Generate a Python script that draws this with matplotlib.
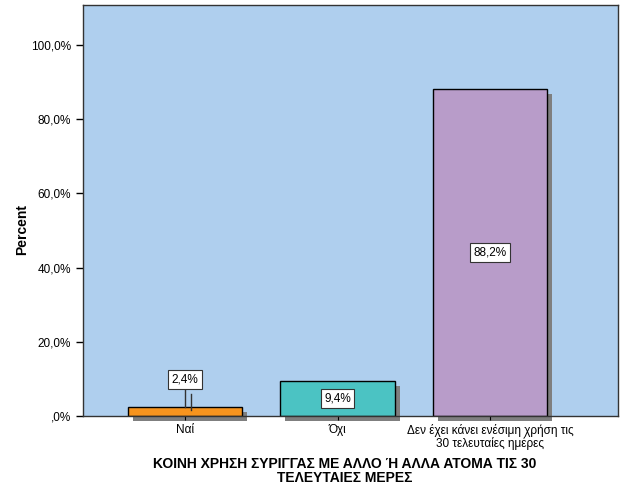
import matplotlib.pyplot as plt
from matplotlib.ticker import FuncFormatter

categories = ['Ναί', 'Όχι', 'Δεν έχει κάνει ενέσιμη χρήση τις\n30 τελευταίες ημέρες']
percents = [2.4, 9.4, 88.2]
labels = ['2,4%', '9,4%', '88,2%']
colors = ['#F7941E', '#4BC3C3', '#B89CC9']

plt.rcParams['font.family'] = ['Liberation Sans', 'DejaVu Sans']

fig = plt.figure(figsize=(6.26, 5.01), dpi=100)
ax = fig.add_axes([83 / 626, (501 - 416) / 501, 535 / 626, 411 / 501])
ax.set_facecolor('#AFCFEE')

x = list(range(len(categories)))
width = 0.75
# drop shadows (offset a few pixels right/down)
dx = 5 / 152.5
dy = 5 / 3.71
ax.bar([i + dx for i in x], percents, bottom=-dy, width=width,
       color='#7F7F7F', edgecolor='none', zorder=1, clip_on=False)
ax.bar(x, percents, width=width, color=colors, edgecolor='black', linewidth=1, zorder=2)

for i, (p, lab) in enumerate(zip(percents, labels)):
    box = dict(boxstyle='square,pad=0.3', facecolor='white', edgecolor='#333333', linewidth=0.8)
    if p < 5:
        ypos = 9.8
        ax.plot([i, i], [ypos - 2.0, p], color='#333333', linewidth=1, zorder=3)
        ax.plot([i + 0.04, i + 0.04], [ypos - 3.8, p - 0.7], color='#333333', linewidth=1, zorder=3)
    else:
        ypos = p / 2
    ax.text(i, ypos, lab, ha='center', va='center', fontsize=8.5, bbox=box, zorder=4)

ax.set_xlim(-0.669, 2.839)
ax.set_ylim(0, 110.8)
ax.set_yticks([0, 20, 40, 60, 80, 100])
ax.yaxis.set_major_formatter(FuncFormatter(lambda v, pos: ',0%' if v == 0 else f'{v:.1f}%'.replace('.', ',')))
ax.set_xticks(x)
ax.set_xticklabels(categories, fontsize=8.5, linespacing=1.0)
ax.tick_params(axis='y', labelsize=8.5, length=5, width=1)
ax.tick_params(axis='x', length=3, width=0.8, pad=3)
for s in ax.spines.values():
    s.set_color('#333333')
    s.set_linewidth(1)

fig.text(22 / 626, 1 - 230 / 501, 'Percent', rotation=90, ha='center', va='center',
         fontsize=10, fontweight='bold')
fig.text(345 / 626, 1 - 471 / 501, 'ΚΟΙΝΗ ΧΡΗΣΗ ΣΥΡΙΓΓΑΣ ΜΕ ΑΛΛΟ Ή ΑΛΛΑ ΑΤΟΜΑ ΤΙΣ 30\nΤΕΛΕΥΤΑΙΕΣ ΜΕΡΕΣ',
         ha='center', va='center', fontsize=10, fontweight='bold', linespacing=1.0)

fig.savefig('out.png', dpi=100)
